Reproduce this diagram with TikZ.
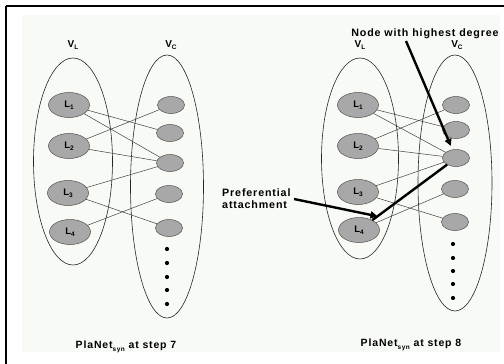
\documentclass[tikz,border=0pt]{standalone}
\usepackage{fontspec}
\setmainfont{Liberation Sans}[LetterSpace=8]
\usetikzlibrary{shapes.geometric,arrows.meta}
\definecolor{nodefill}{HTML}{A8A8A8}
\definecolor{nodeline}{HTML}{505050}
\definecolor{edgecol}{HTML}{404040}
\definecolor{bgtint}{HTML}{F8FAF5}
\newcommand\sbs[1]{\raisebox{-0.45ex}{\fontsize{6.5}{6.5}\selectfont #1}}
\tikzset{
  setell/.style={draw=black!85, line width=0.6pt, ellipse, inner sep=0pt},
  lnode/.style={draw=nodeline, fill=nodefill, line width=0.5pt, ellipse, inner sep=0pt,
    minimum width=41pt, minimum height=25pt, font=\fontsize{9.5}{10}\selectfont\bfseries},
  cnode/.style={draw=nodeline, fill=nodefill, line width=0.5pt, ellipse, inner sep=0pt,
    minimum width=27pt, minimum height=17pt},
  dotn/.style={circle, fill=black, inner sep=0pt, minimum size=4.2pt},
  edge/.style={draw=edgecol, line width=0.5pt},
  thick edge/.style={draw=black, line width=2.4pt},
  callout/.style={draw=black, line width=2.4pt, -{Triangle[length=7pt,width=7pt]}},
  setlabel/.style={font=\fontsize{10}{11}\selectfont\bfseries},
  caption/.style={font=\fontsize{10.5}{12}\selectfont\bfseries},
  note/.style={font=\fontsize{10.7}{12}\selectfont\bfseries}
}
\begin{document}
\begin{tikzpicture}[x=1pt,y=-1pt]
\useasboundingbox (0,0) rectangle (504,364);
\fill[white] (0,0) rectangle (504,364);
\fill[bgtint] (22,15) rectangle (500,352);
% frame
\draw[black, line width=2.5pt] (6,6) -- (504,6);
\draw[black, line width=2.5pt] (6,6) -- (6,364);

% ---------- left: step 7 ----------
\node[setell, minimum width=79pt, minimum height=207pt] (aVL) at (73,161.5) {};
\node[setell, minimum width=73pt, minimum height=263pt] (aVC) at (167,186.5) {};
\node[setlabel] (aVLl) at (73,45) {V\sbs{L}};
\node[setlabel] (aVCl) at (171,45) {V\sbs{C}};
\node[lnode] (aL1) at (69,105) {L\sbs{1}};
\node[lnode] (aL2) at (69,146) {L\sbs{2}};
\node[lnode] (aL3) at (68,193) {L\sbs{3}};
\node[lnode] (aL4) at (70,232) {L\sbs{4}};
\node[cnode] (aC1) at (171,105) {};
\node[cnode] (aC2) at (170,133) {};
\node[cnode] (aC3) at (170,163) {};
\node[cnode] (aC4) at (169,194) {};
\node[cnode] (aC5) at (169,228) {};
\foreach \i/\y in {1/249,2/263,3/277,4/290,5/304}{\node[dotn] (ad\i) at (167,\y) {};}
\draw[edge] (aL1) -- (aC2);
\draw[edge] (aL1) -- (aC3);
\draw[edge] (aL2) -- (aC1);
\draw[edge] (aL2) -- (aC3);
\draw[edge] (aL3) -- (aC3);
\draw[edge] (aL3) -- (aC5);
\draw[edge] (aL4) -- (aC4);
\node[caption] (acap) at (126,347) {PlaNet\sbs{syn} at step 7};

% ---------- right: step 8 ----------
\node[setell, minimum width=77pt, minimum height=201pt] (bVL) at (360,158.5) {};
\node[setell, minimum width=74pt, minimum height=256pt] (bVC) at (455,183) {};
\node[setlabel] (bVLl) at (360,45) {V\sbs{L}};
\node[setlabel] (bVCl) at (457,45) {V\sbs{C}};
\node[lnode] (bL1) at (358,105) {L\sbs{1}};
\node[lnode] (bL2) at (358,146) {L\sbs{2}};
\node[lnode] (bL3) at (358,192) {L\sbs{3}};
\node[lnode] (bL4) at (359,230) {L\sbs{4}};
\node[cnode] (bC1) at (456,105) {};
\node[cnode] (bC2) at (456,130) {};
\node[cnode] (bC3) at (456,158) {};
\node[cnode] (bC4) at (455,189) {};
\node[cnode] (bC5) at (455,222) {};
\foreach \i/\y in {1/244,2/258,3/271,4/284,5/298}{\node[dotn] (bd\i) at (453,\y) {};}
\draw[edge] (bL1) -- (bC2);
\draw[edge] (bL1) -- (bC3);
\draw[edge] (bL2) -- (bC1);
\draw[edge] (bL2) -- (bC3);
\draw[edge] (bL3) -- (bC3);
\draw[edge] (bL3) -- (bC5);
\draw[edge] (bL4) -- (bC4);
\draw[thick edge] (bL4) -- (bC3) coordinate[pos=0.07] (pa);
\node[caption] (bcap) at (411,345) {PlaNet\sbs{syn} at step 8};

% callouts
\node[note] (hd) at (425,34) {Node with highest degree};
\coordinate (hdstart) at (406,41);
\draw[callout, shorten >=4pt] (hdstart) -- (bC3);
\node[note, align=left, anchor=west, inner sep=0pt] (pref) at (222,199)
  {Preferential\\attachment};
\coordinate (prefstart) at (294,199);
\draw[callout] (prefstart) -- (pa);
\end{tikzpicture}
\end{document}
